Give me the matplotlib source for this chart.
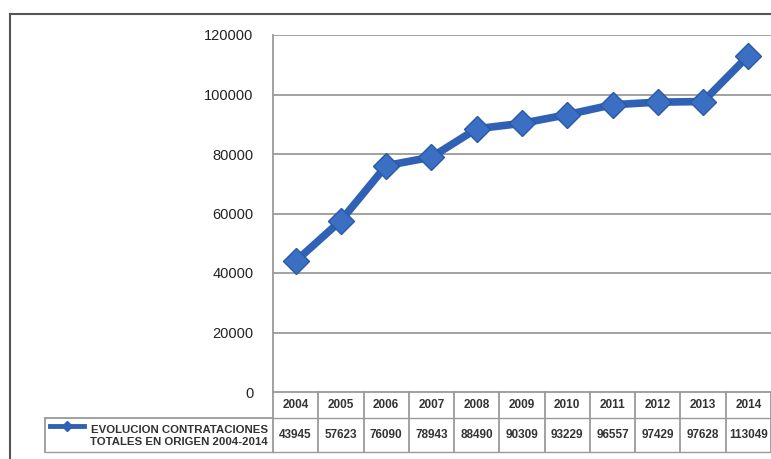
import matplotlib.pyplot as plt
from matplotlib.lines import Line2D
import matplotlib.transforms as mtransforms

plt.rcParams['font.family'] = ['Liberation Sans', 'DejaVu Sans']

years = ['2004', '2005', '2006', '2007', '2008', '2009', '2010', '2011', '2012', '2013', '2014']
contrataciones = [43945, 57623, 76090, 78943, 88490, 90309, 93229, 96557, 97429, 97628, 113049]
yticks = [0, 20000, 40000, 60000, 80000, 100000, 120000]
serie = 'EVOLUCION CONTRATACIONES\nTOTALES EN ORIGEN 2004-2014'

W, H = 771, 459
fig = plt.figure(figsize=(W / 100, H / 100), dpi=100)

# area del grafico en pixeles
x0, x1, y0, y1 = 273, 771, 35, 392
ax = fig.add_axes([x0 / W, 1 - y1 / H, (x1 - x0) / W, (y1 - y0) / H])

color = '#2f62b5'
grid = '#9a9a9a'
ax.plot(range(len(years)), contrataciones, color=color, lw=5.5, marker='D',
        ms=13, mfc='#3a6fc4', mec='#2a5aa5', mew=1, zorder=3)

ax.set_xlim(-0.5, len(years) - 0.5)
ax.set_ylim(0, 120000)
ax.set_yticks(yticks)
ax.set_yticklabels([str(v) for v in yticks], fontsize=10.5, color='#222222')
ax.set_xticks([])
ax.tick_params(axis='y', length=0, pad=14)
for v in yticks[1:]:
    ax.axhline(v, color=grid, lw=1.3, zorder=1)
for s in ['top', 'right']:
    ax.spines[s].set_visible(False)
ax.spines['left'].set_color(grid)
ax.spines['bottom'].set_color(grid)
ax.spines['left'].set_linewidth(1.3)
ax.spines['bottom'].set_linewidth(1.3)

# tabla de datos debajo del eje
tr = mtransforms.blended_transform_factory(ax.transData, ax.transAxes)
h = y1 - y0
r1 = -26 / h
r2 = -60 / h
n = len(years)
for i in range(n + 1):
    ax.add_line(Line2D([i - 0.5, i - 0.5], [0, r2], transform=tr, color=grid,
                       lw=1.3, clip_on=False))
for r in [r1, r2]:
    ax.add_line(Line2D([-0.5, n - 0.5], [r, r], transform=tr, color=grid,
                       lw=1.0, clip_on=False))
for i, (yr, v) in enumerate(zip(years, contrataciones)):
    ax.text(i, r1 / 2, yr, transform=tr, ha='center', va='center',
            fontsize=8.5, fontweight='bold', color='#333333')
    ax.text(i, (r1 + r2) / 2, str(v), transform=tr, ha='center', va='center',
            fontsize=8.5, fontweight='bold', color='#333333')

# celda de la leyenda
fig.add_artist(Line2D([45 / W, x0 / W], [1 - 418 / H, 1 - 418 / H], color=grid, lw=1.3))
fig.add_artist(Line2D([45 / W, 45 / W], [1 - 418 / H, 1 - 452 / H], color=grid, lw=1.3))
fig.add_artist(Line2D([45 / W, x0 / W], [1 - 452 / H, 1 - 452 / H], color=grid, lw=1.0))
fig.add_artist(Line2D([50 / W, 84 / W], [1 - 426 / H, 1 - 426 / H], color=color, lw=3.5))
fig.add_artist(Line2D([67 / W], [1 - 426 / H], color=color, marker='D', ms=5))
fig.text(268 / W, 1 - 436 / H, serie, ha='right', va='center', ma='right',
         fontsize=8.2, fontweight='bold', color='#333333', linespacing=1.35)

# marco exterior
fig.add_artist(Line2D([10 / W, 10 / W], [1 - 14 / H, 0], color='#555555', lw=1.5))
fig.add_artist(Line2D([10 / W, 1], [1 - 14 / H, 1 - 14 / H], color='#555555', lw=1.5))

fig.savefig('out.png', dpi=100)
